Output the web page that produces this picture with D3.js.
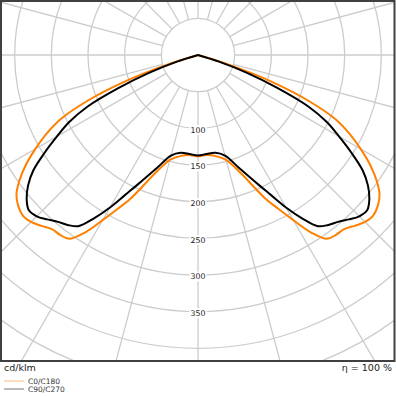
<!DOCTYPE html>
<html>
<head>
<meta charset="utf-8">
<script src="https://cdn.jsdelivr.net/npm/d3@7"></script>
<style>
body { margin: 0; background: #fff; }
svg { display: block; font-family: "DejaVu Sans", sans-serif; }
</style>
</head>
<body>
<div id="chart"></div>
<script>
// gamma angles (deg from nadir), same for both halves of each plane
var angles = [0, 5, 10, 15, 20, 25, 27.5, 30, 32.5, 35, 37.5, 40, 42.5, 45, 47.5, 50, 52.5, 55, 57.5, 60, 62.5, 65, 67.5, 70, 72.5, 75];
var c0c180 = [138, 137, 140, 148, 172, 215, 236, 260, 287, 306, 309, 310, 316, 322, 324, 320, 312, 297, 278, 256, 233, 206, 163, 108, 45, 0];
var c90c270 = [137, 135.5, 135.5, 142, 164, 195, 215, 240, 264, 285, 292, 297, 304, 311, 313, 305, 292, 274, 248, 222, 198, 166, 117, 72, 30, 0];
var rings = [50, 100, 150, 200, 250, 300, 350, 400, 450, 500];
var ringLabels = [100, 150, 200, 250, 300, 350];
var spokes = d3.range(0, 360, 15);
var seriesNames = ["C0/C180", "C90/C270"];
var seriesColors = ["#ff8000", "#000000"];

var width = 396, height = 396;
var plotW = 394, plotH = 360;
var cx = 198, cy = 55;

var r = d3.scaleLinear().domain([0, 50]).range([0, 36.67]);

var svg = d3.select("#chart").append("svg")
  .attr("width", width)
  .attr("height", height);

svg.append("clipPath").attr("id", "clip")
  .append("rect").attr("x", 1).attr("y", 1).attr("width", plotW).attr("height", plotH);

var plot = svg.append("g").attr("clip-path", "url(#clip)");
var g = plot.append("g").attr("transform", "translate(" + cx + "," + cy + ")");

// grid circles
g.selectAll(".ring").data(rings).enter().append("circle")
  .attr("r", function(d) { return r(d); })
  .attr("fill", "none")
  .attr("stroke", "#cccccc")
  .attr("stroke-width", 1.3);

// spokes, starting at the first ring
g.selectAll(".spoke").data(spokes).enter().append("line")
  .attr("x1", function(d) { return r(50) * Math.sin(d * Math.PI / 180); })
  .attr("y1", function(d) { return r(50) * Math.cos(d * Math.PI / 180); })
  .attr("x2", function(d) { return r(700) * Math.sin(d * Math.PI / 180); })
  .attr("y2", function(d) { return r(700) * Math.cos(d * Math.PI / 180); })
  .attr("stroke", "#cccccc")
  .attr("stroke-width", 1.3);

// ring labels
var lab = g.selectAll(".lab").data(ringLabels).enter().append("g")
  .attr("transform", function(d) { return "translate(0," + (r(d) + 1.5) + ")"; });
lab.append("rect")
  .attr("x", -8.5).attr("y", -5).attr("width", 17).attr("height", 10)
  .attr("fill", "#fff");
lab.append("text")
  .attr("text-anchor", "middle")
  .attr("dy", "0.36em")
  .attr("font-size", 7.8)
  .attr("fill", "#222")
  .text(function(d) { return d; });

// curves
function buildPoints(vals) {
  var pts = [];
  for (var i = angles.length - 1; i >= 0; i--) pts.push({ a: -angles[i], v: vals[i] });
  for (var j = 1; j < angles.length; j++) pts.push({ a: angles[j], v: vals[j] });
  return pts;
}

var radial = d3.lineRadial()
  .angle(function(d) { return Math.PI - d.a * Math.PI / 180; })
  .radius(function(d) { return r(d.v); })
  .curve(d3.curveCatmullRom.alpha(0.5));

var series = [c0c180, c90c270];
g.selectAll(".curve").data(series).enter().append("path")
  .attr("d", function(d) { return radial(buildPoints(d)); })
  .attr("fill", "none")
  .attr("stroke", function(d, i) { return seriesColors[i]; })
  .attr("stroke-width", 2)
  .attr("stroke-linejoin", "round");

// frame
svg.append("rect")
  .attr("x", 1).attr("y", 1).attr("width", plotW - 0.5).attr("height", plotH)
  .attr("fill", "none")
  .attr("stroke", "#404040")
  .attr("stroke-width", 2);

// texts under the plot
svg.append("text").attr("x", 4).attr("y", 371)
  .attr("font-size", 9.5).attr("fill", "#222").text("cd/klm");
svg.append("text").attr("x", 392).attr("y", 371)
  .attr("text-anchor", "end")
  .attr("font-size", 9.5).attr("fill", "#222").text("η = 100 %");

// legend
var leg = svg.selectAll(".leg").data(seriesNames).enter().append("g")
  .attr("transform", function(d, i) { return "translate(4," + (381 + i * 8) + ")"; });
leg.append("line")
  .attr("x1", 0).attr("x2", 20)
  .attr("stroke", function(d, i) { return seriesColors[i]; })
  .attr("stroke-opacity", 0.45)
  .attr("stroke-width", 1.2);
leg.append("text")
  .attr("x", 24).attr("dy", "0.36em")
  .attr("font-size", 7.5).attr("fill", "#333")
  .text(function(d) { return d; });
</script>
</body>
</html>
